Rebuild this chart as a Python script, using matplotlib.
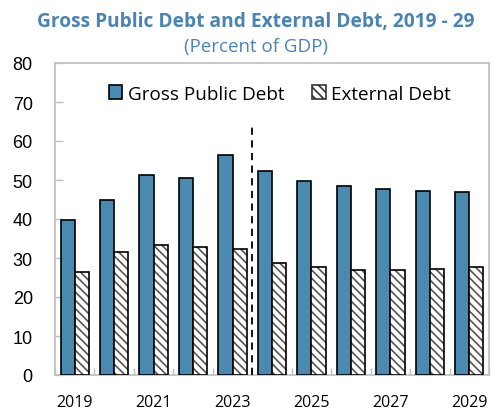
import numpy as np
import matplotlib
matplotlib.use('Agg')
import matplotlib.pyplot as plt
from matplotlib.patches import Patch

# Debt ratios, percent of GDP
years = [2019, 2020, 2021, 2022, 2023, 2024, 2025, 2026, 2027, 2028, 2029]
gross_debt = [39.7, 44.9, 51.2, 50.4, 56.4, 52.3, 49.7, 48.4, 47.6, 47.1, 46.8]
external_debt = [26.4, 31.5, 33.4, 32.9, 32.4, 28.6, 27.6, 26.9, 26.8, 27.2, 27.8]
tick_years = ['2019', '', '2021', '', '2023', '', '2025', '', '2027', '', '2029']

blue = '#4A8AB0'
title_blue = '#4A84B4'
grey = '#BFBFBF'

plt.rcParams['hatch.linewidth'] = 1.2
plt.rcParams['hatch.color'] = '#555555'

fig = plt.figure(figsize=(4.98, 4.10), dpi=100)
ax = fig.add_axes([55 / 498, 1 - 376 / 410, 434 / 498, 312 / 410])

x = np.arange(len(years))
w = 0.36

ax.bar(x - w / 2, gross_debt, w, color=blue, edgecolor='black', linewidth=1.2, zorder=3)
# hatched bars: hatch first, then a black outline on top
ax.bar(x + w / 2, external_debt, w, color='white', edgecolor='#555555', hatch='\\\\\\\\',
       linewidth=0, zorder=3)
ax.bar(x + w / 2, external_debt, w, fill=False, edgecolor='black', linewidth=1.2, zorder=4)

# dashed line separating actuals from projections
ax.plot([4.5, 4.5], [0, 64.5], color='black', linestyle=(0, (4, 3)), linewidth=1.3, zorder=5)

ax.set_xlim(-0.5, len(years) - 0.5)
ax.set_ylim(0, 80)
ax.set_yticks(range(0, 81, 10))
ax.set_xticks(x)
ax.set_xticklabels(tick_years, family='Open Sans', fontsize=11.5)
ax.set_xticks(np.arange(-0.5, len(years), 1), minor=True)
for lab in ax.get_yticklabels():
    lab.set_family('Liberation Sans')
    lab.set_fontsize(13)

ax.tick_params(axis='x', which='major', length=0, pad=14)
ax.tick_params(axis='x', which='minor', direction='in', length=5, color=grey, width=1)
ax.tick_params(axis='y', direction='in', length=6, color=grey, width=1, pad=16)

for s in ax.spines.values():
    s.set_color(grey)
    s.set_linewidth(1.2)

handles = [Patch(facecolor=blue, edgecolor='black', linewidth=1.2),
           Patch(facecolor='white', edgecolor='#333333', hatch='\\\\\\\\', linewidth=1.2)]
ax.legend(handles, ['Gross Public Debt', 'External Debt'], loc='upper center',
          bbox_to_anchor=(0.518, 0.985), ncol=2, frameon=False,
          prop={'family': 'Open Sans', 'size': 13.6},
          handlelength=0.7, handleheight=0.7, handletextpad=0.3, columnspacing=1.5)

fig.text(256 / 498, 1 - 22 / 410, 'Gross Public Debt and External Debt, 2019 - 29',
         ha='center', va='center', color=title_blue, fontsize=13.8,
         fontweight='bold', family='Open Sans')
fig.text(256 / 498, 1 - 47 / 410, '(Percent of GDP)', ha='center', va='center',
         color=title_blue, fontsize=13.5, family='Open Sans')

fig.savefig('out.png', dpi=100)
